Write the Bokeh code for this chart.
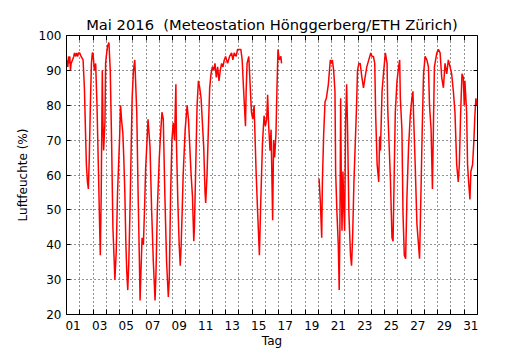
import math
from bokeh.plotting import figure
from bokeh.models import (FixedTicker, LinearAxis, Range1d, ColumnDataSource,
                          CustomJSTickFormatter)
from bokeh.embed import file_html
from bokeh.resources import INLINE

# time in days since 1 May 2016 00:00, relative humidity in %
days = [
    0.00, 0.05, 0.10, 0.15, 0.20, 0.25, 0.30, 0.35, 0.45, 0.55, 0.60, 0.70, 0.75, 0.85, 0.90,
    1.00, 1.10, 1.25, 1.35, 1.45, 1.50, 1.58, 1.65, 1.72, 1.80, 1.88, 1.95,
    2.00, 2.10, 2.20, 2.30, 2.40, 2.50, 2.55, 2.62, 2.70, 2.75, 2.80, 2.90, 2.95,
    3.00, 3.10, 3.20, 3.30, 3.40, 3.50, 3.60, 3.65, 3.75, 3.85, 3.95,
    4.00, 4.08, 4.15, 4.25, 4.32, 4.40, 4.48, 4.55, 4.62, 4.70, 4.80, 4.90, 4.95,
    5.05, 5.15, 5.20, 5.30, 5.40, 5.50, 5.55, 5.62, 5.70, 5.80, 5.90, 5.97,
    6.05, 6.15, 6.30, 6.42, 6.55, 6.68, 6.75, 6.85, 7.00,
    7.10, 7.20, 7.30, 7.42, 7.55, 7.68, 7.75, 7.85, 7.95,
    8.05, 8.15, 8.25, 8.30, 8.40, 8.50, 8.58, 8.65, 8.72, 8.80, 8.95,
    9.10, 9.20, 9.30, 9.40, 9.50, 9.60, 9.65, 9.75, 9.85, 9.95,
    10.05, 10.15, 10.25, 10.35, 10.45, 10.50, 10.60, 10.70, 10.80, 10.90, 11.00,
    11.10, 11.20, 11.30, 11.40, 11.50, 11.60, 11.70, 11.80, 11.90,
    12.00, 12.15, 12.30, 12.45, 12.55, 12.65, 12.80, 12.90,
    13.00, 13.15, 13.25, 13.35, 13.50, 13.55, 13.62, 13.75, 13.85, 13.95,
    14.05, 14.15, 14.30, 14.42, 14.55, 14.65, 14.78, 14.90, 15.00,
    15.10, 15.17, 15.25, 15.35, 15.43, 15.55, 15.62, 15.70, 15.80, 15.87, 15.95,
    16.05, 16.17, 16.22,
    17.50,
    19.05, 19.15, 19.25, 19.30, 19.40, 19.50, 19.60, 19.75, 19.90, 20.00,
    20.05, 20.15, 20.25, 20.30, 20.40, 20.50, 20.57, 20.62, 20.68, 20.72, 20.78, 20.85, 20.92, 20.98,
    21.05, 21.13, 21.20, 21.30, 21.42, 21.50, 21.58, 21.68, 21.78, 21.88, 21.95,
    22.05, 22.15, 22.28, 22.40, 22.52, 22.65, 22.80, 22.95,
    23.05, 23.15, 23.25, 23.32, 23.43, 23.55, 23.62, 23.68, 23.80, 23.93,
    24.05, 24.18, 24.23, 24.43, 24.55, 24.63, 24.73, 24.80, 24.93,
    25.05, 25.13, 25.18, 25.30, 25.38, 25.48, 25.58, 25.68, 25.80, 25.93,
    26.05, 26.13, 26.18, 26.30, 26.43, 26.55, 26.63, 26.73, 26.83, 26.93,
    27.05, 27.18, 27.30, 27.38, 27.50, 27.60, 27.68, 27.75, 27.93,
    28.05, 28.18, 28.30, 28.43, 28.55, 28.68, 28.80, 28.93,
    29.05, 29.18, 29.30, 29.43, 29.55, 29.63, 29.73, 29.83, 29.93, 30.00,
    30.05, 30.18, 30.25, 30.33, 30.43, 30.50, 30.63, 30.73, 30.80, 30.88, 30.95,
]
humidity = [
    93, 92, 91, 94, 92, 94, 90, 92, 93, 94, 95, 94, 95, 94, 95,
    95, 94, 93, 85, 70, 63, 58, 56, 65, 80, 92, 95,
    95, 90, 92, 80, 63, 45, 37, 55, 90, 75, 67, 75, 92,
    94, 97, 98, 90, 70, 45, 35, 30, 38, 55, 65,
    70, 80, 76, 72, 65, 55, 40, 32, 27, 35, 52, 72, 82,
    90, 93, 88, 78, 55, 35, 24, 33, 42, 40, 52, 62,
    68, 76, 68, 50, 35, 24, 32, 50, 65,
    72, 78, 76, 54, 35, 25, 30, 54, 70,
    75, 70, 86, 68, 52, 40, 34, 40, 49, 60, 73,
    80, 76, 68, 60, 54, 41, 45, 63, 80, 87,
    85, 82, 75, 68, 55, 52, 60, 73, 85, 89, 91,
    90, 92, 88, 91, 87, 90, 92, 91, 93,
    94, 92, 94, 95, 93, 95, 94, 96,
    96, 96, 93, 85, 74, 84, 92, 94, 86, 78,
    76, 80, 61, 49, 37, 52, 69, 77, 74,
    76, 83, 74, 67, 73, 47, 70, 65, 72, 84, 96,
    93, 94, 92,
    float("nan"),
    59, 52, 42, 58, 72, 81, 82, 86, 93, 92,
    93, 90, 84, 61, 49, 40, 27, 44, 82, 61, 44, 61, 50, 44,
    75, 86, 73, 49, 37, 34, 42, 58, 69, 80, 90,
    92, 92, 88, 85, 88, 91, 93, 95,
    94, 94, 92, 77, 63, 58, 71, 67, 84, 90,
    95, 92, 79, 59, 42, 41, 63, 78, 87,
    91, 93, 82, 73, 49, 37, 36, 54, 68, 77,
    82, 84, 77, 63, 46, 40, 36, 54, 73, 89,
    94, 93, 91, 80, 73, 56, 75, 91, 95,
    96, 95, 88, 85, 92, 89, 93, 91,
    89, 84, 78, 63, 58, 63, 78, 89, 88, 80,
    87, 78, 63, 58, 53, 61, 63, 70, 77, 82, 80,
]

label_days = [1, 3, 5, 7, 9, 11, 13, 15, 17, 19, 21, 23, 25, 27, 29, 31]
tick_labels = ["01", "03", "05", "07", "09", "11", "13", "15", "17", "19",
               "21", "23", "25", "27", "29", "31"]
y_ticks = [20, 30, 40, 50, 60, 70, 80, 90, 100]

FONT = "DejaVu Sans"

label_pos = [d - 0.5 for d in label_days]       # labels at noon of the day
day_bounds = list(range(1, 31))                 # ticks / grid at midnight

p = figure(width=530, height=350, output_backend="svg", toolbar_location=None,
           x_range=Range1d(0, 31), y_range=Range1d(20, 100),
           min_border_left=66, min_border_right=53, min_border_top=35,
           min_border_bottom=35, background_fill_color="white",
           border_fill_color="white")

# non-breaking space keeps the double gap of the original title
p.title.text = "Mai 2016\u00a0 (Meteostation Hönggerberg/ETH Zürich)"
p.title.align = "center"
p.title.text_font = FONT
p.title.text_font_size = "14.7px"
p.title.text_font_style = "normal"
p.title.text_color = "black"
p.title.standoff = 5

p.outline_line_color = "black"
p.outline_line_width = 1
p.outline_line_alpha = 1

src = ColumnDataSource(dict(x=days, y=humidity))
p.line("x", "y", source=src, line_color="#ff0000", line_width=1.5)

xticker = FixedTicker(ticks=label_pos, minor_ticks=day_bounds)
xa = p.xaxis[0]
xa.ticker = xticker
xa.formatter = CustomJSTickFormatter(args=dict(labels=tick_labels),
                                     code="return labels[Math.round((tick - 0.5) / 2)];")
xa.major_tick_line_color = None
xa.minor_tick_in = 5
xa.minor_tick_out = 0
xa.minor_tick_line_color = "black"
xa.axis_line_color = "black"
xa.axis_label = "Tag"
xa.axis_label_text_font = FONT
xa.axis_label_text_font_size = "12px"
xa.axis_label_text_font_style = "normal"
xa.axis_label_text_color = "black"
xa.axis_label_standoff = 1
xa.major_label_text_font = FONT
xa.major_label_text_font_size = "12px"
xa.major_label_text_color = "black"
xa.major_label_standoff = 0

yticker = FixedTicker(ticks=y_ticks, minor_ticks=[])
ya = p.yaxis[0]
ya.ticker = yticker
ya.major_tick_in = 4
ya.major_tick_out = 0
ya.major_tick_line_color = "black"
ya.minor_tick_line_color = None
ya.axis_line_color = "black"
ya.axis_label = "Luftfeuchte (%)"
ya.axis_label_text_font = FONT
ya.axis_label_text_font_size = "12px"
ya.axis_label_text_font_style = "normal"
ya.axis_label_text_color = "black"
ya.axis_label_standoff = 6
ya.major_label_text_font = FONT
ya.major_label_text_font_size = "12px"
ya.major_label_text_color = "black"
ya.major_label_standoff = 5

p.xgrid.ticker = xticker
p.xgrid.grid_line_color = None
p.xgrid.minor_grid_line_color = "black"
p.xgrid.minor_grid_line_dash = "1 3"
p.xgrid.minor_grid_line_alpha = 0.85

p.ygrid.ticker = yticker
p.ygrid.grid_line_color = "black"
p.ygrid.grid_line_dash = "1 3"
p.ygrid.grid_line_alpha = 0.85

# mirrored ticks on top and right (minor ticks only, so no labels)
top_ax = LinearAxis(ticker=FixedTicker(ticks=[], minor_ticks=day_bounds),
                    major_tick_line_color=None, minor_tick_in=5, minor_tick_out=0,
                    minor_tick_line_color="black", axis_line_color=None,
                    major_label_standoff=0)
p.add_layout(top_ax, "above")
right_ax = LinearAxis(ticker=FixedTicker(ticks=[], minor_ticks=y_ticks),
                      major_tick_line_color=None, minor_tick_in=4, minor_tick_out=0,
                      minor_tick_line_color="black", axis_line_color=None,
                      major_label_standoff=0)
p.add_layout(right_ax, "right")

open("out.html", "w").write(file_html(p, INLINE))
